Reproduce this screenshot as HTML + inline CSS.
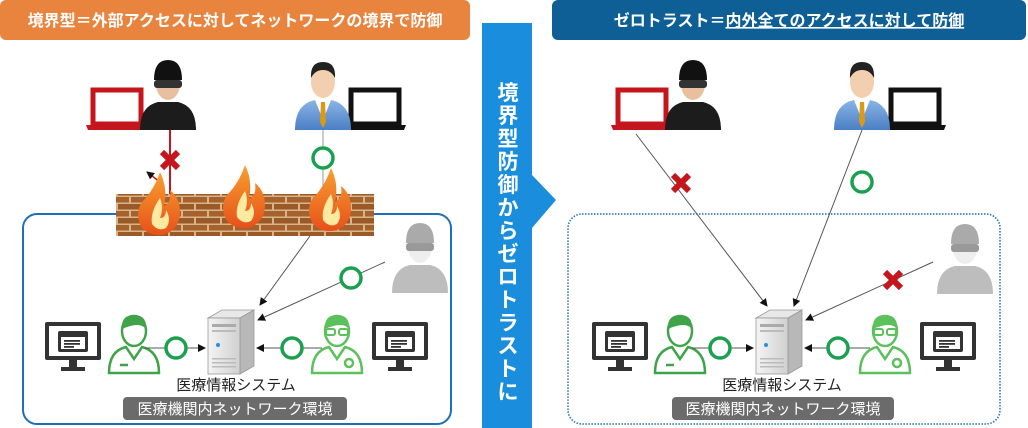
<!DOCTYPE html>
<html><head><meta charset="utf-8"><style>
html,body{margin:0;padding:0;background:#fff;}
svg{display:block;font-family:"Liberation Sans","Noto Sans CJK JP",sans-serif;}
</style></head><body>
<svg width="1028" height="428" viewBox="0 0 1028 428" xmlns="http://www.w3.org/2000/svg">
<defs>
 <linearGradient id="blueG" x1="0" y1="0" x2="0" y2="1"><stop offset="0" stop-color="#8ab4e6"/><stop offset="1" stop-color="#4a7fc4"/></linearGradient>
 <linearGradient id="srvG" x1="0" y1="0" x2="1" y2="0"><stop offset="0" stop-color="#f4f4f4"/><stop offset="1" stop-color="#d0d0d0"/></linearGradient>
 <linearGradient id="flG" x1="0" y1="1" x2="0" y2="0"><stop offset="0" stop-color="#e8501a"/><stop offset="1" stop-color="#f7a030"/></linearGradient>
 <pattern id="brick" width="26" height="14" patternUnits="userSpaceOnUse">
  <rect width="26" height="14" fill="#d8b48a"/>
  <rect x="1" y="1" width="24" height="5.5" fill="#a5622c"/>
  <rect x="-12" y="8" width="24" height="5.5" fill="#9a5a28"/>
  <rect x="14" y="8" width="24" height="5.5" fill="#9a5a28"/>
 </pattern>
 <marker id="ar" markerWidth="8" markerHeight="8" refX="7" refY="4" orient="auto" markerUnits="userSpaceOnUse"><path d="M0,0 L8,4 L0,8 Z" fill="#111"/></marker>
 <g id="hacker">
  <path d="M-28 70 Q-28 46 -10 42 L10 42 Q28 46 28 70 Z" fill="#1c1c1c"/>
  <ellipse cx="0" cy="24" rx="12" ry="16" fill="#e8c0a0"/>
  <path d="M-14 20 Q-14 0 0 0 Q14 0 14 20 Z" fill="#111"/>
  <rect x="-14" y="20" width="28" height="8" rx="3" fill="#333"/>
 </g>
 <g id="grayp">
  <path d="M-28 70 Q-28 46 -10 42 L10 42 Q28 46 28 70 Z" fill="#bdbdbd"/>
  <ellipse cx="0" cy="24" rx="12" ry="16" fill="#eee"/>
  <path d="M-14 20 Q-14 0 0 0 Q14 0 14 20 Z" fill="#aaa"/>
  <rect x="-14" y="20" width="28" height="8" rx="3" fill="#999"/>
 </g>
 <g id="biz">
  <path d="M-28 70 Q-28 44 -8 40 L8 40 Q28 44 28 70 Z" fill="url(#blueG)"/>
  <path d="M-8 40 L0 60 L8 40 Z" fill="#fff"/>
  <path d="M-2 42 L2 42 L3 62 L0 68 L-3 62 Z" fill="#d89a18"/>
  <ellipse cx="0" cy="22" rx="12" ry="16" fill="#f2cfae"/>
  <path d="M-12 18 Q-13 2 0 2 Q13 2 12 18 Q8 10 0 10 Q-8 10 -12 18 Z" fill="#222"/>
 </g>
 <g id="lapR"><rect x="3" y="2" width="48" height="34" fill="#fff" stroke="#c4161c" stroke-width="5"/><path d="M-4 37 L58 37 L56 42 L-2 42 Z" fill="#c4161c"/></g>
 <g id="lapB"><rect x="3" y="2" width="48" height="34" fill="#fff" stroke="#111" stroke-width="5"/><path d="M-4 37 L58 37 L56 42 L-2 42 Z" fill="#111"/></g>
 <g id="flame">
  <path d="M0 0 Q-6 18 -18 30 Q-26 42 -18 56 Q-8 66 6 62 Q20 56 20 40 Q20 26 10 18 Q12 30 4 34 Q8 16 0 0 Z" fill="url(#flG)"/>
  <path d="M0 26 Q-10 40 -8 52 Q-2 60 6 56 Q12 48 6 38 Q6 46 0 46 Q4 36 0 26 Z" fill="#fde9a0"/>
 </g>
 <g id="server">
  <path d="M0 8 L14 0 L46 0 L32 8 Z" fill="#e8e8e8" stroke="#999" stroke-width="0.8"/>
  <path d="M32 8 L46 0 L46 56 L32 64 Z" fill="#b8b8b8" stroke="#999" stroke-width="0.8"/>
  <rect x="0" y="8" width="32" height="56" fill="url(#srvG)" stroke="#999" stroke-width="0.8"/>
  <rect x="4" y="14" width="24" height="3" fill="#aaa"/><rect x="4" y="20" width="24" height="2" fill="#bbb"/>
  <circle cx="10" cy="35" r="2" fill="#2a8fd8"/>
  <rect x="4" y="48" width="24" height="1.5" fill="#bbb"/><rect x="4" y="52" width="24" height="1.5" fill="#bbb"/><rect x="4" y="56" width="24" height="1.5" fill="#bbb"/>
 </g>
 <g id="monitor">
  <rect x="0" y="0" width="56" height="38" rx="2" fill="#333"/>
  <rect x="4" y="4" width="48" height="30" fill="#fff"/>
  <rect x="13" y="9" width="30" height="21" rx="2" fill="#333"/>
  <rect x="16" y="15" width="24" height="12" fill="#fff"/>
  <rect x="19" y="18" width="16" height="1.8" fill="#333"/><rect x="19" y="21" width="16" height="1.8" fill="#333"/><rect x="19" y="24" width="10" height="1.8" fill="#333"/>
  <rect x="24" y="38" width="8" height="8" fill="#333"/><rect x="16" y="45" width="24" height="4" fill="#333"/>
 </g>
 <g id="docL" fill="none" stroke="#3fa34a" stroke-width="2.5">
  <path d="M-25 60 Q-25 38 -8 34 L0 46 L8 34 Q25 38 25 60 Z" fill="#fff"/>
  <ellipse cx="0" cy="18" rx="12" ry="15" fill="#fff"/>
  <path d="M-12 16 Q-13 2 0 2 Q13 2 12 16 Q6 8 -12 16 Z" fill="#3fa34a" stroke="none"/>
  <path d="M-14 52 L-6 52"/>
 </g>
 <g id="docR" fill="none" stroke="#5cc05c" stroke-width="2.5">
  <path d="M-25 60 Q-25 38 -8 34 L0 46 L8 34 Q25 38 25 60 Z" fill="#fff"/>
  <ellipse cx="0" cy="18" rx="12" ry="15" fill="#fff"/>
  <path d="M-12 16 Q-13 2 0 2 Q13 2 12 16 Q6 8 -12 16 Z" fill="#5cc05c" stroke="none"/>
  <rect x="-11" y="16" width="9" height="6" rx="2" stroke-width="2"/><rect x="2" y="16" width="9" height="6" rx="2" stroke-width="2"/>
  <circle cx="12" cy="50" r="4"/>
 </g>
</defs>

<rect x="0" y="0" width="470" height="40" rx="6" fill="#e8843e"/>
<text x="235" y="26" text-anchor="middle" fill="#fff" font-size="16" font-weight="bold">境界型＝外部アクセスに対してネットワークの境界で防御</text>
<rect x="552" y="0" width="474" height="40" rx="6" fill="#0d5f96"/>
<text x="789" y="26" text-anchor="middle" fill="#fff" font-size="16" font-weight="bold">ゼロトラスト＝<tspan text-decoration="underline">内外全てのアクセスに対して防御</tspan></text>

<path d="M482 23 L532 23 L532 175 L556 200 L532 228 L532 428 L482 428 Z" fill="#1a8ddd"/>
<text fill="#fff" font-size="21" font-weight="bold" text-anchor="middle">
<tspan x="508" y="100">境</tspan><tspan x="508" y="123">界</tspan><tspan x="508" y="146">型</tspan><tspan x="508" y="169">防</tspan><tspan x="508" y="192">御</tspan><tspan x="508" y="215">か</tspan><tspan x="508" y="238">ら</tspan><tspan x="508" y="261">ゼ</tspan><tspan x="508" y="284">ロ</tspan><tspan x="508" y="307">ト</tspan><tspan x="508" y="330">ラ</tspan><tspan x="508" y="353">ス</tspan><tspan x="508" y="376">ト</tspan><tspan x="508" y="399">に</tspan>
</text>

<rect x="23" y="214" width="428" height="210" rx="14" fill="none" stroke="#1f6fb8" stroke-width="2"/>
<use href="#lapR" x="90" y="88"/>
<use href="#hacker" x="168" y="60"/>
<use href="#lapB" x="348" y="88"/>
<use href="#biz" x="323" y="60"/>
<line x1="170" y1="130" x2="170" y2="196" stroke="#c4161c" stroke-width="2"/>
<line x1="160" y1="182" x2="147" y2="172" stroke="#c4161c" stroke-width="1.5" marker-end="url(#ar)"/>
<line x1="323" y1="130" x2="323" y2="195" stroke="#999" stroke-width="1"/>
<rect x="116" y="194" width="258" height="42" fill="url(#brick)"/>
<use href="#flame" x="160" y="172"/>
<use href="#flame" x="245" y="165"/>
<use href="#flame" x="331" y="168"/>
<g stroke="#c4161c" stroke-width="6"><line x1="162" y1="152" x2="178" y2="168"/><line x1="178" y1="152" x2="162" y2="168"/></g>
<circle cx="323" cy="158" r="10" fill="#fff" stroke="#1aa050" stroke-width="3.5"/>
<line x1="310" y1="236" x2="260" y2="305" stroke="#555" stroke-width="1" marker-end="url(#ar)"/>
<use href="#grayp" x="420" y="223"/>
<line x1="385" y1="262" x2="258" y2="320" stroke="#555" stroke-width="1" marker-end="url(#ar)"/>
<circle cx="351" cy="278" r="10" fill="#fff" stroke="#1aa050" stroke-width="3.5"/>
<use href="#server" x="208" y="310"/>
<use href="#monitor" x="45" y="322"/>
<use href="#docL" x="134" y="313"/>
<use href="#monitor" x="372" y="322"/>
<use href="#docR" x="337" y="313"/>
<line x1="145" y1="348" x2="205" y2="348" stroke="#555" stroke-width="1" marker-end="url(#ar)"/>
<line x1="322" y1="348" x2="257" y2="348" stroke="#555" stroke-width="1" marker-end="url(#ar)"/>
<circle cx="176" cy="348" r="10" fill="#fff" stroke="#1aa050" stroke-width="3.5"/>
<circle cx="292" cy="348" r="10" fill="#fff" stroke="#1aa050" stroke-width="3.5"/>
<text x="236" y="390" text-anchor="middle" font-size="15" fill="#222">医療情報システム</text>
<rect x="123" y="397" width="224" height="23" rx="4" fill="#6b6b6b"/>
<text x="235" y="414" text-anchor="middle" font-size="15" fill="#fff">医療機関内ネットワーク環境</text>

<rect x="568" y="214" width="432" height="210" rx="14" fill="none" stroke="#1f6fb8" stroke-width="1.5" stroke-dasharray="1.5 1.5"/>
<use href="#lapR" x="615" y="88"/>
<use href="#hacker" x="693" y="60"/>
<use href="#lapB" x="888" y="88"/>
<use href="#biz" x="862" y="60"/>
<line x1="636" y1="134" x2="767" y2="306" stroke="#555" stroke-width="1" marker-end="url(#ar)"/>
<line x1="862" y1="130" x2="794" y2="306" stroke="#555" stroke-width="1" marker-end="url(#ar)"/>
<g stroke="#c4161c" stroke-width="6"><line x1="673" y1="175" x2="689" y2="191"/><line x1="689" y1="175" x2="673" y2="191"/></g>
<circle cx="862" cy="182" r="10" fill="#fff" stroke="#1aa050" stroke-width="3.5"/>
<use href="#grayp" x="965" y="224"/>
<line x1="933" y1="262" x2="806" y2="320" stroke="#555" stroke-width="1" marker-end="url(#ar)"/>
<g stroke="#c4161c" stroke-width="6"><line x1="885" y1="272" x2="901" y2="288"/><line x1="901" y1="272" x2="885" y2="288"/></g>
<use href="#server" x="756" y="310"/>
<use href="#monitor" x="592" y="322"/>
<use href="#docL" x="680" y="313"/>
<use href="#monitor" x="920" y="322"/>
<use href="#docR" x="885" y="313"/>
<line x1="692" y1="348" x2="753" y2="348" stroke="#555" stroke-width="1" marker-end="url(#ar)"/>
<line x1="870" y1="348" x2="805" y2="348" stroke="#555" stroke-width="1" marker-end="url(#ar)"/>
<circle cx="720" cy="348" r="10" fill="#fff" stroke="#1aa050" stroke-width="3.5"/>
<circle cx="838" cy="348" r="10" fill="#fff" stroke="#1aa050" stroke-width="3.5"/>
<text x="782" y="390" text-anchor="middle" font-size="15" fill="#222">医療情報システム</text>
<rect x="672" y="397" width="222" height="23" rx="4" fill="#6b6b6b"/>
<text x="783" y="414" text-anchor="middle" font-size="15" fill="#fff">医療機関内ネットワーク環境</text>
</svg>
</body></html>
